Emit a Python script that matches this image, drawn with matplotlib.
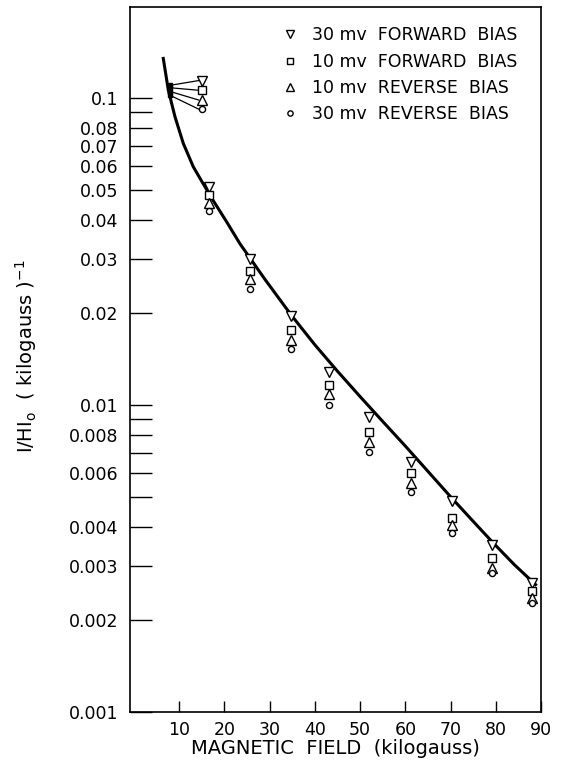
import numpy as np
import matplotlib
matplotlib.use('Agg')
import matplotlib.pyplot as plt
from matplotlib.lines import Line2D

# magnetic field (kilogauss) of each group of measurements
field = [8.0, 16.5, 25.6, 34.8, 43.2, 52.0, 61.3, 70.4, 79.2, 88.0]

# I/HI0 values
fwd30 = [0.110, 0.0514, 0.0299, 0.0195, 0.0128, 0.00916, 0.00653, 0.00486, 0.00350, 0.00264]
fwd10 = [0.108, 0.0483, 0.0274, 0.0175, 0.0116, 0.00818, 0.00599, 0.00430, 0.00318, 0.00247]
rev10 = [0.105, 0.0455, 0.0257, 0.0163, 0.0109, 0.00759, 0.00556, 0.00406, 0.00294, 0.00236]
rev30 = [0.102, 0.0430, 0.0238, 0.0152, 0.0100, 0.00704, 0.00522, 0.00382, 0.00283, 0.00226]

# the first group is crowded, so it is drawn displaced with leader lines
first_x = 15.1
first_y = [0.114, 0.106, 0.0985, 0.092]

# the drawn theory curve
curve_x = [6.46, 7.57, 9.05, 10.88, 13.1, 15.31, 17.52, 20.48, 23.43, 29.0, 34.76, 40.0,
           45.0, 50.0, 55.0, 60.0, 65.0, 70.35, 75.0, 79.16, 84.0, 88.8]
curve_y = [0.1346, 0.1062, 0.0869, 0.0712, 0.0597, 0.0525, 0.0463, 0.0395, 0.0335, 0.0256,
           0.01963, 0.0157, 0.01288, 0.01065, 0.00884, 0.00735, 0.00608, 0.00496, 0.00418,
           0.00359, 0.00303, 0.0026]

labels = ['30 mv  FORWARD  BIAS', '10 mv  FORWARD  BIAS', '10 mv  REVERSE  BIAS', '30 mv  REVERSE  BIAS']
markers = ['v', 's', '^', 'o']
sizes = [7.4, 5.2, 6.8, 4.4]
leg_sizes = [6.0, 5.0, 6.0, 3.8]

ytick_vals = [0.1, 0.08, 0.07, 0.06, 0.05, 0.04, 0.03, 0.02, 0.01, 0.008, 0.006, 0.004, 0.003, 0.002, 0.001]
ytick_labels = ['0.1', '0.08', '0.07', '0.06', '0.05', '0.04', '0.03', '0.02', '0.01',
                '0.008', '0.006', '0.004', '0.003', '0.002', '0.001']
yminor = [0.09, 0.009, 0.007, 0.005]
xtick_vals = [10, 20, 30, 40, 50, 60, 70, 80, 90]

plt.rcParams['font.family'] = ['DejaVu Sans']

fig = plt.figure(figsize=(5.64, 7.73), dpi=100)
ax = fig.add_axes([0.2305, 0.0789, 0.7287, 0.9121])

ax.plot(curve_x, curve_y, color='black', lw=2.2, zorder=2, solid_joinstyle='round')

series = [fwd30, fwd10, rev10, rev30]
for vals, m, s in zip(series, markers, sizes):
    ax.plot(field[1:], vals[1:], linestyle='none', marker=m, ms=s, mfc='white',
            mec='black', mew=1.0, zorder=3)

# crowded first group
for vals, m, s, yy in zip(series, markers, sizes, first_y):
    ax.plot([field[0], first_x - 0.8], [vals[0], yy], color='black', lw=0.9, zorder=2)
    ax.plot([field[0]], [vals[0]], marker='s', ms=3.5, color='black', zorder=3)
    ax.plot([first_x], [yy], linestyle='none', marker=m, ms=s, mfc='white',
            mec='black', mew=1.0, zorder=3)

ax.set_yscale('log')
ax.set_xlim(-0.9, 90)
ax.set_ylim(0.001, 0.198)

ax.set_yticks(ytick_vals)
ax.set_yticklabels(ytick_labels)
ax.set_yticks(yminor, minor=True)
ax.set_yticklabels([], minor=True)
ax.set_xticks(xtick_vals)
ax.set_xticklabels([str(v) for v in xtick_vals])

ax.tick_params(axis='y', which='both', direction='in', length=15.5, width=1.0,
               labelsize=12.5, pad=8.5)
ax.tick_params(axis='x', direction='in', length=8, width=1.0, labelsize=12.5, pad=6.5)
for sp in ax.spines.values():
    sp.set_linewidth(1.2)

ax.set_xlabel('MAGNETIC  FIELD  (kilogauss)', fontsize=14, labelpad=0)
ax.set_ylabel(r'I/HI$_\mathrm{o}$  ( kilogauss )$^{-1}$', fontsize=14)
ax.yaxis.set_label_coords(-0.222, 0.505)

handles = [Line2D([], [], linestyle='none', marker=m, ms=s, mfc='white', mec='black', mew=1.0)
           for m, s in zip(markers, leg_sizes)]
ax.legend(handles, labels, loc='upper left', bbox_to_anchor=(0.369, 0.9726), frameon=False,
          fontsize=12.5, borderpad=0, borderaxespad=0, handlelength=1.0, handletextpad=0.745,
          labelspacing=0.48)

fig.savefig('out.png', dpi=100)
